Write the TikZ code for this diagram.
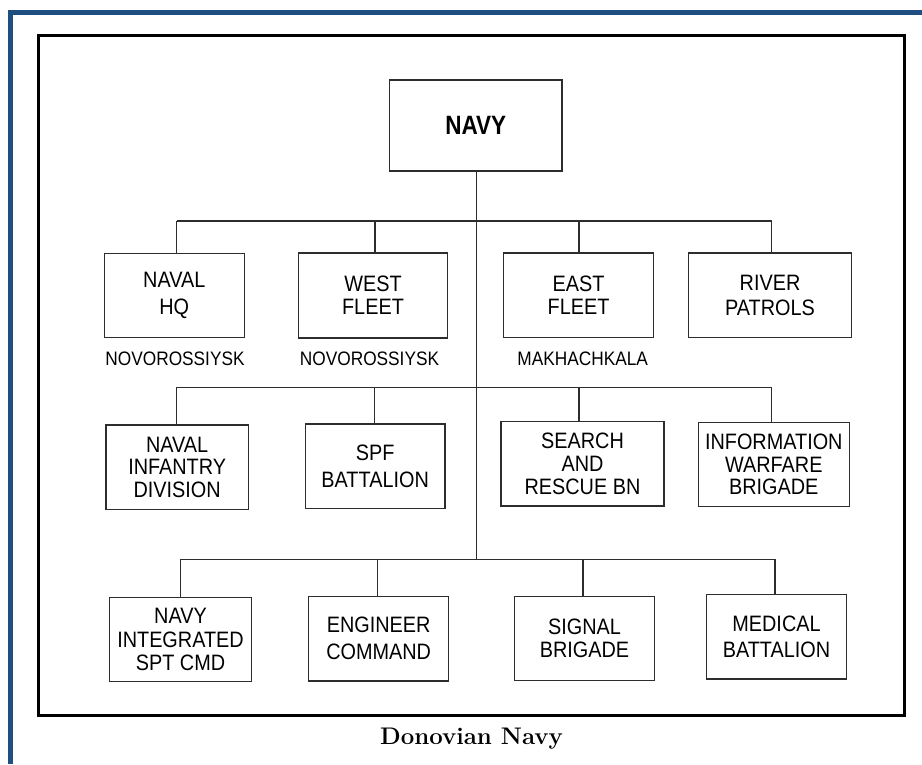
\documentclass[tikz,border=0pt]{standalone}
\usepackage{fontspec}
\newfontfamily\boxfont[FakeStretch=0.89]{Liberation Sans}
\newfontfamily\locfont[FakeStretch=0.885]{Liberation Sans}
\newfontfamily\topfont[FakeStretch=0.85]{Liberation Sans}
\definecolor{edgeblue}{RGB}{31,78,128}
\definecolor{linegray}{RGB}{45,45,45}
\begin{document}
\begin{tikzpicture}[x=1pt,y=-1pt,
  unit/.style={draw=linegray, line width=1.1pt, rectangle, inner sep=0pt, align=center,
    font=\boxfont\fontsize{22.3}{22.7}\selectfont},
  unitwide/.style={unit, font=\boxfont\fontsize{22.3}{26.7}\selectfont},
  topunit/.style={draw=linegray, line width=1.1pt, rectangle, inner sep=0pt, align=center,
    font=\topfont\bfseries\fontsize{26.5}{26.5}\selectfont},
  loc/.style={inner sep=0pt, font=\locfont\fontsize{19.5}{19.5}\selectfont},
  link/.style={draw=linegray, line width=1.3pt},
  frame/.style={draw=black, line width=3pt},
  edge/.style={draw=edgeblue, line width=5pt}
]
\useasboundingbox (0,0) rectangle (922,764);
\fill[white] (0,0) rectangle (922,764);

% outer blue edge and frame
\draw[edge] (10.8,764) -- (10.8,12.5) -- (922,12.5);
\draw[frame] (38.5,35.5) rectangle (904.5,715);

% top
\node[topunit, minimum width=172.5, minimum height=91] (navy) at (475.75,125.5) {NAVY};

% row 1
\node[unitwide, minimum width=140,   minimum height=84.4] (hq)    at (174.3,295.5)  {NAVAL\\HQ};
\node[unit,     minimum width=149.4, minimum height=85]   (west)  at (373,295.5)    {WEST\\FLEET};
\node[unit,     minimum width=149.6, minimum height=84.7] (east)  at (578.5,295.35) {EAST\\FLEET};
\node[unit, font=\boxfont\fontsize{22.3}{25}\selectfont,
                minimum width=163.4, minimum height=84.7] (river) at (770,295.35)   {RIVER\\PATROLS};

\node[loc] (lochq)   at (175,359)   {NOVOROSSIYSK};
\node[loc] (locwest) at (369.5,359) {NOVOROSSIYSK};
\node[loc] (loceast) at (582.7,359) {MAKHACHKALA};

% row 2
\node[unit,     minimum width=142.3, minimum height=84.3] (inf) at (177.15,467.15) {NAVAL\\INFANTRY\\DIVISION};
\node[unitwide, minimum width=139.7, minimum height=84.7] (spf) at (375.15,466.35) {SPF\\BATTALION};
\node[unit,     minimum width=163,   minimum height=84.3] (sar) at (582.5,463.85)  {SEARCH\\AND\\RESCUE BN};
\node[unit,     minimum width=151,   minimum height=84.4] (iw)  at (773.8,464.5)   {INFORMATION\\WARFARE\\BRIGADE};

% row 3
\node[unit, font=\boxfont\fontsize{22.3}{23.3}\selectfont,
                minimum width=142.4, minimum height=84.4] (nisc) at (180.5,639.5)  {NAVY\\INTEGRATED\\SPT CMD};
\node[unitwide, minimum width=140,   minimum height=84.7] (eng)  at (378.7,638.65) {ENGINEER\\COMMAND};
\node[unit,     minimum width=139.6, minimum height=84.4] (sig)  at (584.5,638.5)  {SIGNAL\\BRIGADE};
\node[unit, font=\boxfont\fontsize{22.3}{26}\selectfont,
                minimum width=139.6, minimum height=84.3] (med)  at (776.5,636.85) {MEDICAL\\BATTALION};

% bus coordinates
\coordinate (a1) at (176.7,221);
\coordinate (a2) at (375,221);
\coordinate (a3) at (579,221);
\coordinate (a4) at (771.7,221);
\coordinate (b1) at (176.7,387.3);
\coordinate (b2) at (374.3,387.3);
\coordinate (b3) at (579,387.3);
\coordinate (b4) at (771.7,387.3);
\coordinate (c1) at (180.3,559.3);
\coordinate (c2) at (377.7,559.3);
\coordinate (c3) at (583,559.3);
\coordinate (c4) at (775,559.3);
\coordinate (trunk) at (476.5,559.3);

% trunk
\draw[link] (navy.south -| trunk) -- (trunk);

% bus 1
\draw[link] (a1) -- (a4);
\draw[link] (a1) -- (a1 |- hq.north);
\draw[link] (a2) -- (a2 |- west.north);
\draw[link] (a3) -- (a3 |- east.north);
\draw[link] (a4) -- (a4 |- river.north);

% bus 2
\draw[link] (b1) -- (b4);
\draw[link] (b1) -- (b1 |- inf.north);
\draw[link] (b2) -- (b2 |- spf.north);
\draw[link] (b3) -- (b3 |- sar.north);
\draw[link] (b4) -- (b4 |- iw.north);

% bus 3
\draw[link] (c1) -- (c4);
\draw[link] (c1) -- (c1 |- nisc.north);
\draw[link] (c2) -- (c2 |- eng.north);
\draw[link] (c3) -- (c3 |- sig.north);
\draw[link] (c4) -- (c4 |- med.north);

% caption
\node[anchor=base, inner sep=0pt, font=\bfseries\fontsize{24}{24}\selectfont] (caption) at (471.5,744.5) {Donovian Navy};
\end{tikzpicture}
\end{document}
